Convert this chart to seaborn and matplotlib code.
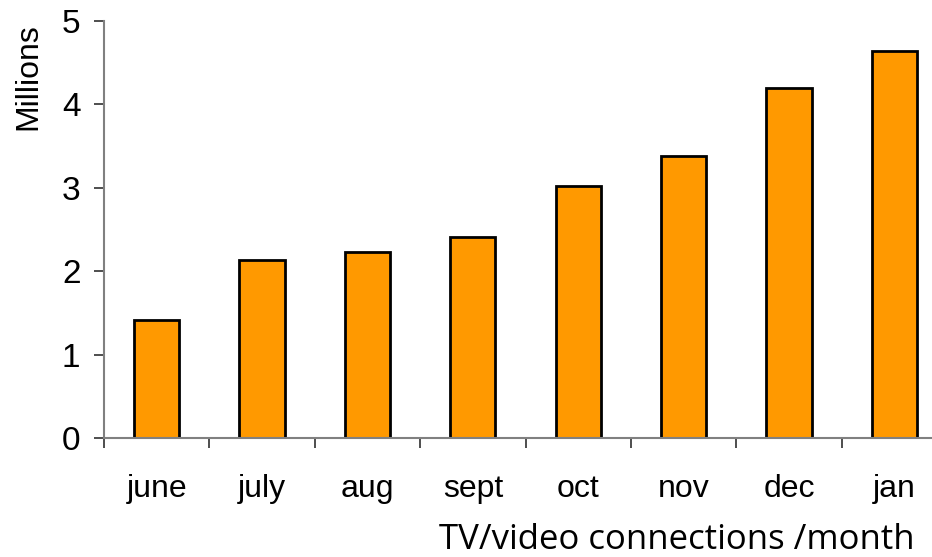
import matplotlib
matplotlib.use("Agg")
import matplotlib.pyplot as plt
import seaborn as sns
import pandas as pd
import numpy as np

months = ["june", "july", "aug", "sept", "oct", "nov", "dec", "jan"]
connections = [1.41, 2.14, 2.23, 2.41, 3.02, 3.38, 4.20, 4.64]
y_ticks = [0, 1, 2, 3, 4, 5]

sns.set_style("white")
plt.rcParams["font.family"] = ["Liberation Sans", "DejaVu Sans"]
plt.rcParams["text.color"] = "black"
plt.rcParams["xtick.color"] = "black"
plt.rcParams["ytick.color"] = "black"

df = pd.DataFrame({"month": months, "millions": connections})

fig = plt.figure(figsize=(9.32, 5.57), dpi=100)
ax = fig.add_axes([104/932, 119/557, 843/932, 417/557])

sns.barplot(data=df, x="month", y="millions", color="#FF9900", width=0.43,
            edgecolor="black", linewidth=2.0, saturation=1, ax=ax)

ax.set_xlim(-0.5, len(months) - 0.5)
ax.set_ylim(0, 5)
ax.set_yticks(y_ticks)
ax.set_yticklabels([str(t) for t in y_ticks], fontsize=24)

for s in ["top", "right"]:
    ax.spines[s].set_visible(False)
for s in ["left", "bottom"]:
    ax.spines[s].set_color("#808080")
    ax.spines[s].set_linewidth(1.5)

ax.tick_params(axis="y", direction="out", length=7, width=1.2, color="#303030",
               pad=10, left=True, labelcolor="black")
ax.set_xticks(np.arange(len(months)))
ax.set_xticklabels(months, fontsize=23)
ax.tick_params(axis="x", which="major", length=0, pad=26, labelcolor="black")
ax.set_xticks(np.arange(len(months)) - 0.5, minor=True)
ax.tick_params(axis="x", which="minor", direction="out", length=7, width=1.2,
               color="#303030", bottom=True)
ax.set_xlabel("")
ax.set_ylabel("")

fig.text(28/932, 1 - 77/557, "Millions", rotation=90, fontsize=23,
         ha="center", va="center", color="black")
fig.text(915/932, 1 - 549/557, "TV/video connections /month", fontsize=25,
         family=["Open Sans", "DejaVu Sans"], ha="right", va="baseline",
         color="black")

fig.savefig("out.png", dpi=100)
